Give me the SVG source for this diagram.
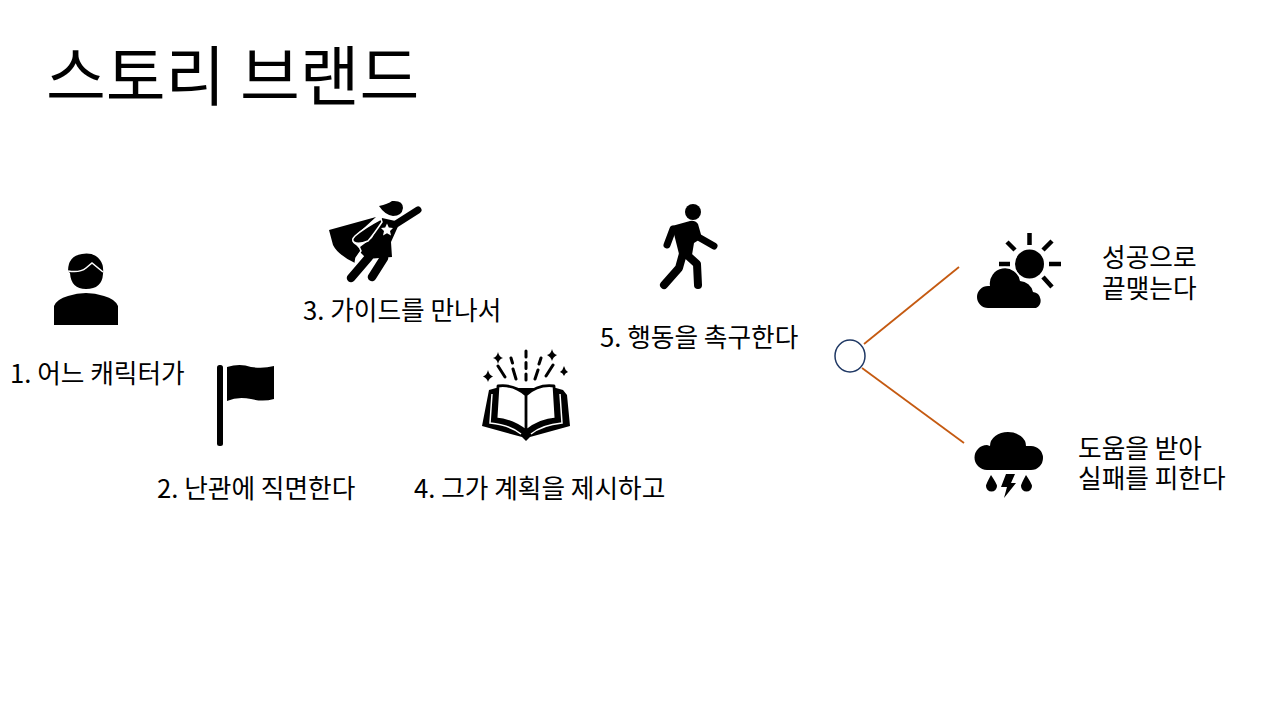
<svg xmlns="http://www.w3.org/2000/svg" width="1280" height="712" viewBox="0 0 1280 712">
<style>
text{font-family:"Noto Sans CJK KR","Noto Sans",sans-serif;fill:#000;font-size:25.7px}
.title{font-size:65px;font-weight:400}
.ink{fill:#000}
.ln{stroke:#000;fill:none;stroke-linecap:round;stroke-linejoin:round}
.wh{stroke:#fff;fill:none}
.cn{stroke:#c55a11;stroke-width:1.8;fill:none}
</style>
<rect width="1280" height="712" fill="#fff"/>
<text class="title" x="46" y="100" id="title">스토리 브랜드</text>
<g id="connectors">
<line class="cn" x1="864" y1="344" x2="959" y2="267"/>
<line class="cn" x1="862" y1="368" x2="964" y2="443"/>
</g>
<g id="node-1">
<path class="ink" d="M68 271Q68 256 82 254Q94 252 100 260Q104 265 103 274Q102 289 86 289Q71 289 70 273Z"/>
<path class="ink" d="M54 325V306Q57 299 68 296Q86 290 104 296Q115 299 118 306V325Z"/>
<path class="wh" stroke-width="1.600" d="M68 271Q80 273 86 268L92 263L103 272"/>
<text x="10" y="383">1. 어느 캐릭터가</text>
</g>
<g id="node-2">
<rect class="ink" x="217" y="365" width="6" height="81" rx="2.500"/>
<path class="ink" d="M227 367Q240 363 251 367Q263 369 274 366V399Q263 402 251 399Q238 396 227 401Z"/>
<text x="157" y="498">2. 난관에 직면한다</text>
</g>
<g id="node-3">
<path class="ink" d="M329 230L376 217L353 238Q351 243 356 245L361 250L356 258L355 263Q338 255 333 245Z"/>
<path class="ink" d="M379 206Q388 204 392 201Q403 200 403 208Q402 216 393 216Q385 215 379 206Z"/>
<path class="ln" stroke-width="7" d="M396 224L418 210"/>
<path class="ink" d="M382 218L400 222L391 242L392 257L367 259L358 250L360 247L372 238L378 226Z"/>
<path class="ln" stroke-width="8.500" d="M369 257L351 278M384 258L372 277"/>
<path class="ink" stroke="#fff" stroke-width="1.500" d="M381 219Q364 228 355 236Q351 240 354 242Q358 245 368 241Q374 234 382 222Z"/>
<path class="wh" stroke-width="1.500" d="M358 244L361 251L356 258L355 264"/>
<path fill="#fff" d="M387 223.500L388.800 227.500L393 228L390 231L391 235.500L387 233.200L383 235.500L384 231L381 228L385.200 227.500Z"/>
<text x="303" y="320">3. 가이드를 만나서</text>
</g>
<g id="node-4">
<path class="ln" stroke-width="3" stroke-dasharray="6 5.500" d="M526 351V385"/>
<path class="ln" stroke-width="3" d="M498 366L505 377M511 358L512.500 363M513 369L516 379M541 358L539 364M538 370L535 379M553 365L546 376"/>
<path class="ink" d="M498 352Q499 357 503 358Q499 359 498 364Q497 359 493 358Q497 357 498 352ZM552 349Q553 354 557 355Q553 357 552 361Q551 357 547 355Q551 354 552 349ZM488 370Q489 375 493 376.500Q489 378 488 382Q487 378 483 376.500Q487 375 488 370ZM564 366Q565 370 568 372Q565 373 564 376Q563 373 560 372Q563 370 564 366Z"/>
<path class="ink" d="M489 390L496 388H556L563 390L567 395L570 426L530 437L526 441L522 437L482 426Z"/>
<path class="wh" stroke-width="1.500" d="M492 394L490 423Q510 425 521 434M560 394L562 423Q542 425 531 434"/>
<path fill="#fff" stroke="#000" stroke-width="2.800" stroke-linejoin="round" d="M498 386Q514 384 526 395V431Q512 420 496 419ZM554 386Q538 384 526 395V431Q540 420 556 419Z"/>
<text x="414" y="498">4. 그가 계획을 제시하고</text>
</g>
<g id="node-5">
<circle class="ink" cx="693" cy="212" r="8"/>
<path class="ink" d="M672 226L690 221Q695 220 698 224L702 238L694 243L692 255L680 258Z"/>
<path class="ln" stroke-width="7" d="M673 229L667 245M700 238L714 246"/>
<path class="ln" stroke-width="8" d="M684 250L679 268L664 285M686 254L697 264L698 285"/>
<text x="600" y="347">5. 행동을 촉구한다</text>
</g>
<g id="node-6">
<ellipse cx="850" cy="356" rx="15" ry="16" fill="#fff" stroke="#1f3864" stroke-width="1.500"/>
</g>
<g id="node-7">
<circle class="ink" cx="1029.500" cy="264" r="14.500"/>
<path class="ln" stroke-width="4.500" style="stroke-linecap:butt" d="M1029.500 233V245M1007 242L1015 250M1052 241L1043 250M999 264H1010M1049 264H1061M1043 277L1052 287"/>
<path class="ink" stroke="#fff" stroke-width="3" paint-order="stroke" d="M988 308A11 11 0 0 1 988 286L990 286A15 15 0 0 1 1020 281A14 14 0 0 1 1033 292A8.500 8.500 0 0 1 1036 308Z"/>
<text x="1102" y="267">성공으로<tspan x="1102" y="298">끝맺는다</tspan></text>
</g>
<g id="node-8">
<path class="ink" d="M987 470A12.500 12.500 0 0 1 987 445L990 446A18 14 0 0 1 1026 446L1031 446A12 12 0 0 1 1031 470Z"/>
<path class="ink" d="M991 475Q997 484 997 486A5.500 5.500 0 0 1 986 486Q986 484 991 475ZM1026 475Q1032 484 1032 486A5.500 5.500 0 0 1 1021 486Q1021 484 1026 475ZM1006 474H1015L1011 483H1016L1004 498L1007 487H1001Z"/>
<text x="1078" y="458">도움을 받아<tspan x="1078" y="488">실패를 피한다</tspan></text>
</g>
</svg>
